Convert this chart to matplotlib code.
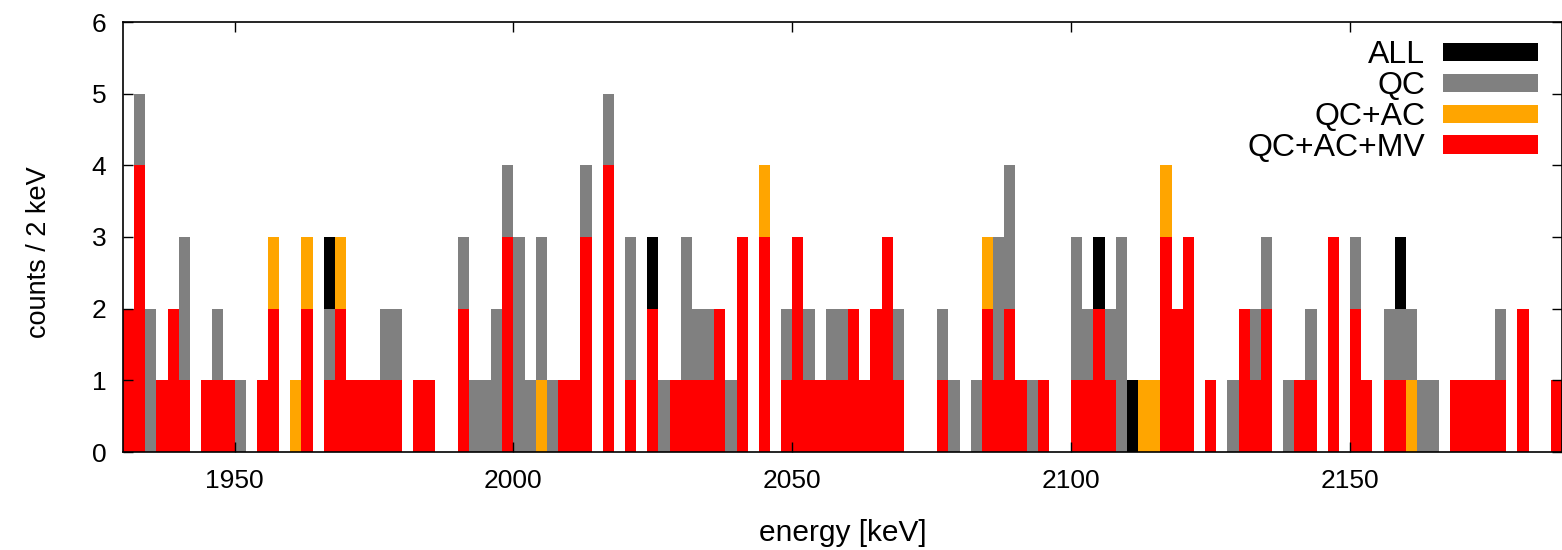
import numpy as np
import matplotlib
matplotlib.use("Agg")
import matplotlib.pyplot as plt
from matplotlib.patches import Patch

plt.rcParams['font.family'] = ['Liberation Sans', 'DejaVu Sans']

# histogram: 2 keV bins starting at 1930 keV
bin_start = 1930
bin_width = 2

all_counts = [2, 5, 2, 1, 2, 3, 0, 1, 2, 1,
              1, 0, 1, 3, 0, 1, 3, 0, 3, 3,
              1, 1, 1, 2, 2, 0, 1, 1, 0, 0,
              3, 1, 1, 2, 4, 3, 1, 3, 1, 1,
              1, 4, 0, 5, 0, 3, 0, 3, 1, 1,
              3, 2, 2, 2, 1, 3, 0, 4, 0, 2,
              3, 2, 1, 2, 2, 2, 1, 2, 3, 2,
              0, 0, 0, 2, 1, 0, 1, 3, 3, 4,
              1, 1, 1, 0, 0, 3, 2, 3, 2, 3,
              1, 1, 1, 4, 2, 3, 0, 1, 0, 1,
              2, 2, 3, 0, 1, 1, 2, 0, 3, 0,
              3, 1, 0, 2, 3, 2, 1, 1, 0, 1,
              1, 1, 1, 2, 0, 2, 0, 0, 1]

qc_counts = [2, 5, 2, 1, 2, 3, 0, 1, 2, 1,
             1, 0, 1, 3, 0, 1, 3, 0, 2, 3,
             1, 1, 1, 2, 2, 0, 1, 1, 0, 0,
             3, 1, 1, 2, 4, 3, 1, 3, 1, 1,
             1, 4, 0, 5, 0, 3, 0, 2, 1, 1,
             3, 2, 2, 2, 1, 3, 0, 4, 0, 2,
             3, 2, 1, 2, 2, 2, 1, 2, 3, 2,
             0, 0, 0, 2, 1, 0, 1, 3, 3, 4,
             1, 1, 1, 0, 0, 3, 2, 2, 2, 3,
             0, 1, 1, 4, 2, 3, 0, 1, 0, 1,
             2, 2, 3, 0, 1, 1, 2, 0, 3, 0,
             3, 1, 0, 2, 2, 2, 1, 1, 0, 1,
             1, 1, 1, 2, 0, 2, 0, 0, 1]

qc_ac_counts = [2, 4, 0, 1, 2, 1, 0, 1, 1, 1,
                0, 0, 1, 3, 0, 1, 3, 0, 1, 3,
                1, 1, 1, 1, 1, 0, 1, 1, 0, 0,
                2, 0, 0, 0, 3, 0, 0, 1, 0, 1,
                1, 3, 0, 4, 0, 1, 0, 2, 0, 1,
                1, 1, 1, 2, 0, 3, 0, 4, 0, 1,
                3, 1, 1, 1, 1, 2, 1, 2, 3, 1,
                0, 0, 0, 1, 0, 0, 0, 3, 1, 2,
                1, 0, 1, 0, 0, 1, 1, 2, 1, 0,
                0, 1, 1, 4, 2, 3, 0, 1, 0, 0,
                2, 1, 2, 0, 0, 1, 1, 0, 3, 0,
                2, 1, 0, 1, 1, 1, 0, 0, 0, 1,
                1, 1, 1, 1, 0, 2, 0, 0, 1]

qc_ac_mv_counts = [2, 4, 0, 1, 2, 1, 0, 1, 1, 1,
                   0, 0, 1, 2, 0, 0, 2, 0, 1, 2,
                   1, 1, 1, 1, 1, 0, 1, 1, 0, 0,
                   2, 0, 0, 0, 3, 0, 0, 0, 0, 1,
                   1, 3, 0, 4, 0, 1, 0, 2, 0, 1,
                   1, 1, 1, 2, 0, 3, 0, 3, 0, 1,
                   3, 1, 1, 1, 1, 2, 1, 2, 3, 1,
                   0, 0, 0, 1, 0, 0, 0, 2, 1, 2,
                   1, 0, 1, 0, 0, 1, 1, 2, 1, 0,
                   0, 0, 0, 3, 2, 3, 0, 1, 0, 0,
                   2, 1, 2, 0, 0, 1, 1, 0, 3, 0,
                   2, 1, 0, 1, 1, 0, 0, 0, 0, 1,
                   1, 1, 1, 1, 0, 2, 0, 0, 1]

series_labels = ["ALL", "QC", "QC+AC", "QC+AC+MV"]
series_colors = ["black", "#808080", "#ffa500", "#ff0000"]

x_ticks = [1950, 2000, 2050, 2100, 2150]
y_ticks = [0, 1, 2, 3, 4, 5, 6]


def main():
    edges = bin_start + bin_width * np.arange(len(all_counts))

    fig = plt.figure(figsize=(15.62, 5.5), dpi=100)
    ax = fig.add_axes([123 / 1562, 98 / 550, 1439 / 1562, 430 / 550])

    # draw the cut levels on top of each other, loosest first
    series = [all_counts, qc_counts, qc_ac_counts, qc_ac_mv_counts]
    for counts, color in zip(series, series_colors):
        ax.bar(edges, counts, width=bin_width, align="edge", color=color,
               linewidth=0)

    ax.set_xlim(bin_start, edges[-1] + bin_width)
    ax.set_ylim(0, 6)
    ax.set_xticks(x_ticks)
    ax.set_yticks(y_ticks)
    ax.tick_params(direction="in", length=7, width=1, top=True, right=True,
                   labelsize=19, pad=12)
    for sp in ax.spines.values():
        sp.set_linewidth(1.2)
        sp.set_zorder(5)

    ax.set_xlabel("energy [keV]", fontsize=21.5, labelpad=19)
    ax.set_ylabel("counts / 2 keV", fontsize=19.5)
    ax.yaxis.set_label_coords(-0.049, 0.465)

    handles = [Patch(facecolor=c, edgecolor="none") for c in series_colors]
    ax.legend(handles, series_labels, loc="upper right",
              bbox_to_anchor=(0.983, 0.958), frameon=False, fontsize=23,
              markerfirst=False, handlelength=2.95, handleheight=0.5,
              handletextpad=0.56, labelspacing=0.03, borderpad=0,
              borderaxespad=0)

    fig.savefig("out.png", dpi=100)
    plt.close(fig)


if __name__ == "__main__":
    main()
